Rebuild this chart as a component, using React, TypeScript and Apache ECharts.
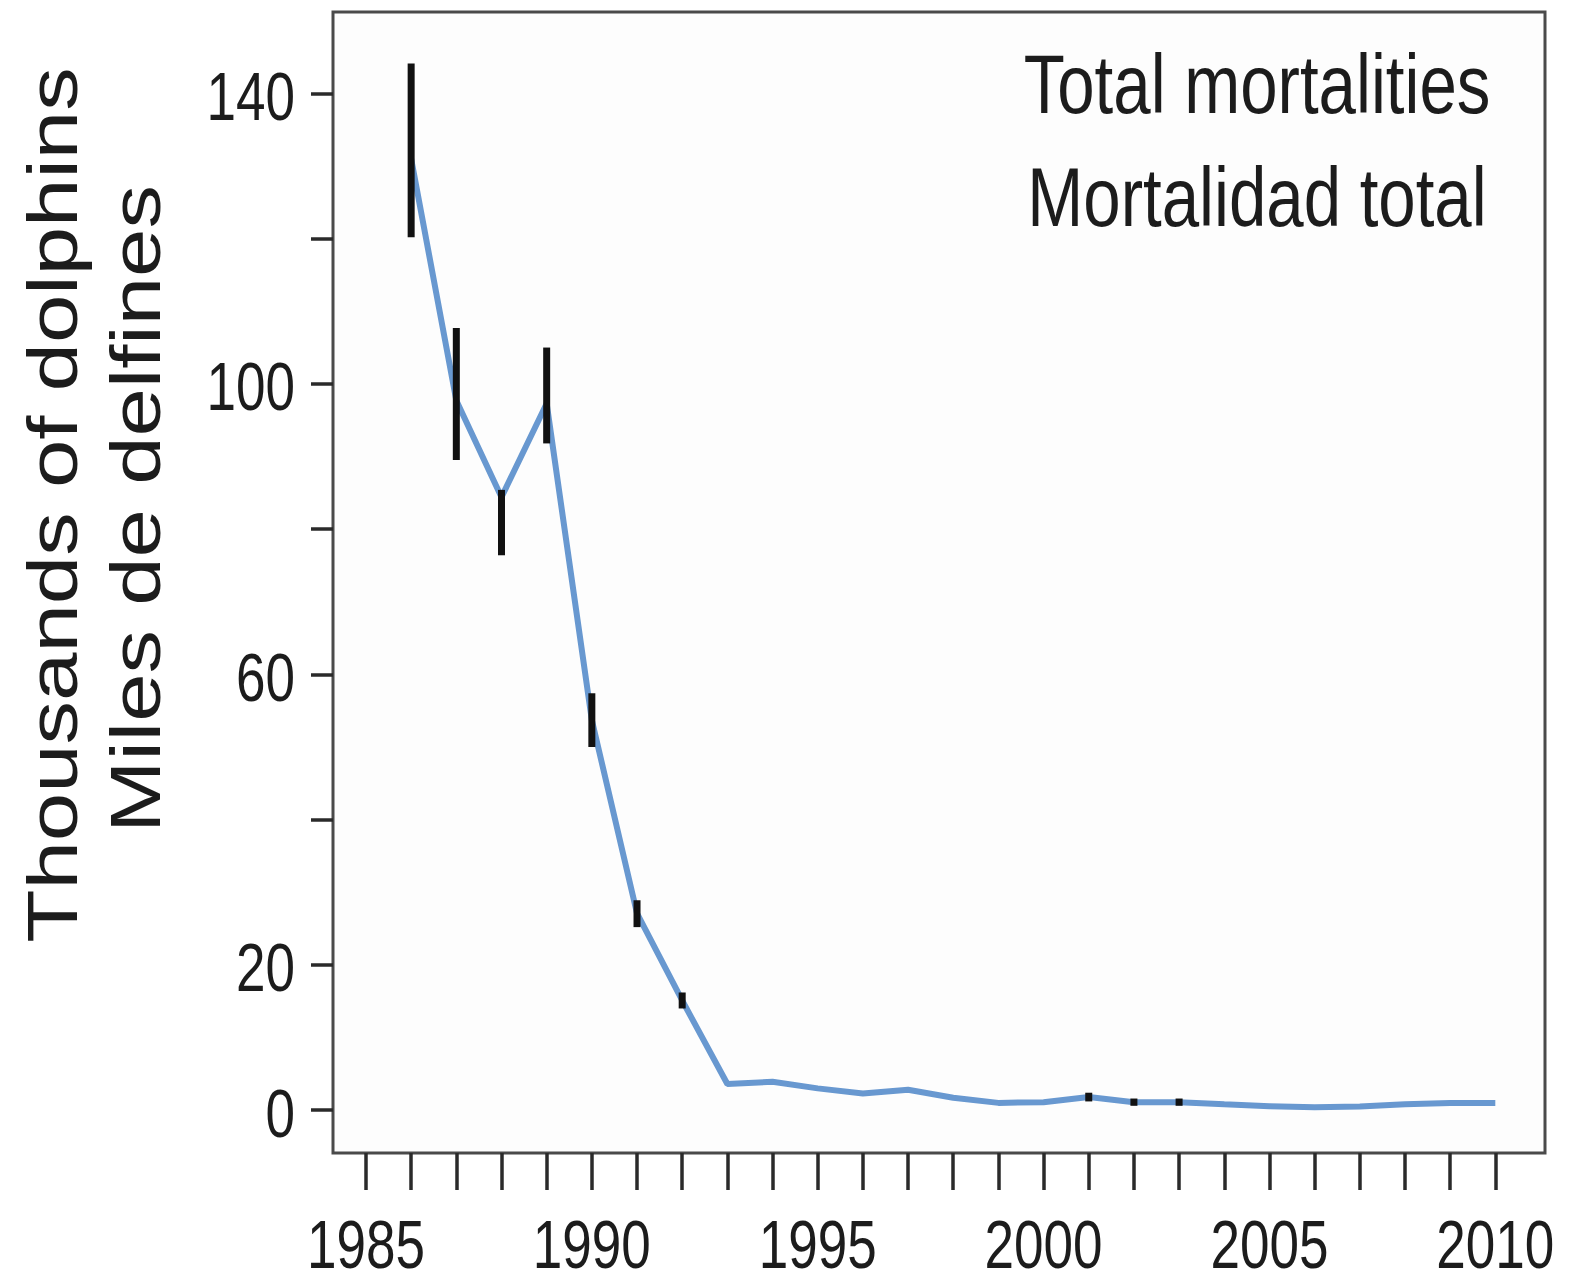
import React, { useEffect, useRef } from "react";
import * as echarts from "echarts";

const years = [1986, 1987, 1988, 1989, 1990, 1991, 1992, 1993, 1994, 1995, 1996, 1997, 1998, 1999, 2000, 2001, 2002, 2003, 2004, 2005, 2006, 2007, 2008, 2009, 2010];
const mortality = [131.0, 97.7, 84.4, 97.3, 53.7, 27.1, 15.1, 3.6, 3.9, 3.0, 2.3, 2.8, 1.7, 1.0, 1.1, 1.8, 1.1, 1.1, 0.8, 0.55, 0.4, 0.5, 0.8, 1.0, 1.0];

const errYears = [1986, 1987, 1988, 1989, 1990, 1991, 1992, 2001, 2002, 2003];
const errLow = [120.2, 89.5, 76.4, 91.8, 50.0, 25.2, 14.0, 1.2, 0.6, 0.6];
const errHigh = [144.1, 107.7, 85.4, 105.0, 57.4, 28.9, 16.2, 2.4, 1.6, 1.6];

const yTickValues = [0, 20, 40, 60, 80, 100, 120, 140];
const yLabelValues = [0, 20, 60, 100, 140];
const xTickValues = [1985, 1986, 1987, 1988, 1989, 1990, 1991, 1992, 1993, 1994, 1995, 1996, 1997, 1998, 1999, 2000, 2001, 2002, 2003, 2004, 2005, 2006, 2007, 2008, 2009, 2010];
const xLabelValues = [1985, 1990, 1995, 2000, 2005, 2010];

const titleLines = ["Total mortalities", "Mortalidad total"];
const yTitleLines = ["Thousands of dolphins", "Miles de delfines"];

const X_MIN = 1984.27;
const X_MAX = 2011.1;
const Y_MIN = -5.9;
const Y_MAX = 151.2;

export default function App() {
  const ref = useRef<HTMLDivElement>(null);
  useEffect(() => {
    if (!ref.current) return;
    const chart = echarts.init(ref.current, undefined, { renderer: "svg" });
    const lineData = years.map((y, i) => [y, mortality[i]]);
    const errData = errYears.map((y, i) => [y, errLow[i], errHigh[i]]);
    const textColor = "#1c1c1c";
    const textStyle = (t: string, size: number, align = "center", vAlign = "middle") => ({
      text: t,
      fontFamily: "Liberation Sans",
      fontSize: size,
      fill: textColor,
      align,
      verticalAlign: vAlign,
      textAlign: align,
      textVerticalAlign: vAlign,
    });
    chart.setOption({
      animation: false,
      backgroundColor: "#ffffff",
      grid: {
        left: 333,
        top: 12,
        right: 32,
        bottom: 133,
        show: true,
        borderColor: "#4a4a4a",
        borderWidth: 3,
        backgroundColor: "#fdfdfd",
      },
      xAxis: {
        type: "value",
        min: X_MIN,
        max: X_MAX,
        position: "bottom",
        splitLine: { show: false },
        axisLine: { show: false, onZero: false },
        axisTick: {
          show: true,
          inside: false,
          length: 37,
          lineStyle: { color: "#2a2a2a", width: 3.5 },
          customValues: xTickValues,
        },
        axisLabel: { show: false },
      },
      yAxis: {
        type: "value",
        min: Y_MIN,
        max: Y_MAX,
        position: "left",
        splitLine: { show: false },
        axisLine: { show: false, onZero: false },
        axisTick: {
          show: true,
          inside: false,
          length: 22,
          lineStyle: { color: "#2a2a2a", width: 3.5 },
          customValues: yTickValues,
        },
        axisLabel: { show: false },
      },
      series: [
        {
          type: "line",
          data: lineData,
          symbol: "none",
          lineStyle: { color: "#6898d0", width: 6 },
          z: 2,
        },
        {
          type: "custom",
          data: errData,
          encode: { x: 0, y: [1, 2] },
          z: 3,
          renderItem: (params: any, api: any) => {
            const p1 = api.coord([api.value(0), api.value(1)]);
            const p2 = api.coord([api.value(0), api.value(2)]);
            return {
              type: "line",
              shape: { x1: p1[0], y1: p1[1], x2: p2[0], y2: p2[1] },
              style: { stroke: "#111111", lineWidth: 7, lineCap: "butt" },
            };
          },
        },
      ],
    });

    // Tick labels placed through the chart's own scales, drawn narrow like the reference
    const axisLeft = chart.convertToPixel({ xAxisIndex: 0 }, X_MIN) as number;
    const axisBottom = chart.convertToPixel({ yAxisIndex: 0 }, Y_MIN) as number;
    const xLabels = xLabelValues.map((v) => ({
      type: "text",
      x: chart.convertToPixel({ xAxisIndex: 0 }, v) as number,
      y: axisBottom + 58,
      scaleX: 0.78,
      style: textStyle(String(v), 68, "center", "top"),
    }));
    const yLabels = yLabelValues.map((v) => ({
      type: "text",
      x: axisLeft - 38,
      y: (chart.convertToPixel({ yAxisIndex: 0 }, v) as number) + 3,
      scaleX: 0.78,
      style: textStyle(String(v), 68, "right", "middle"),
    }));

    chart.setOption({
      graphic: [
        { type: "text", x: 1257, y: 84, scaleX: 0.8, style: textStyle(titleLines[0], 84) },
        { type: "text", x: 1257, y: 197, scaleX: 0.8, style: textStyle(titleLines[1], 84) },
        { type: "text", x: 53, y: 505, rotation: Math.PI / 2, scaleY: 0.8, style: textStyle(yTitleLines[0], 87) },
        { type: "text", x: 136, y: 509, rotation: Math.PI / 2, scaleY: 0.8, style: textStyle(yTitleLines[1], 87) },
        ...xLabels,
        ...yLabels,
      ],
    });
    return () => chart.dispose();
  }, []);
  return (
    <div
      ref={ref}
      style={{ position: "absolute", left: 0, top: 0, width: 1577, height: 1286 }}
    />
  );
}
